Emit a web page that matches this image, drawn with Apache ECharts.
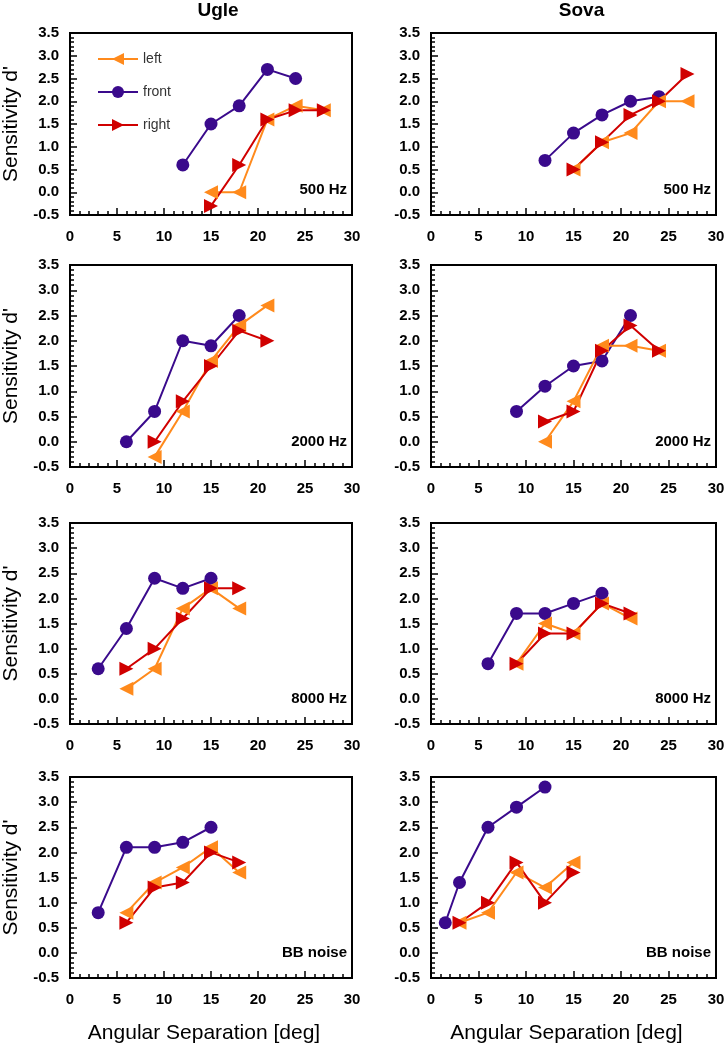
<!DOCTYPE html>
<html><head><meta charset="utf-8">
<script src="https://cdn.jsdelivr.net/npm/echarts@6/dist/echarts.min.js"></script>
<style>html,body{margin:0;padding:0;background:#fff}#c{width:728px;height:1048px}</style>
</head><body><div id="c"></div>
<script>
const subjects = ['Ugle', 'Sova'];
const conditions = ['500 Hz', '2000 Hz', '8000 Hz', 'BB noise'];
const seriesNames = ['left', 'front', 'right'];
const yAxisName = "Sensitivity d'";
const xAxisName = 'Angular Separation [deg]';

// Ugle
const ugle500Front  = [[12,0.6],[15,1.5],[18,1.9],[21,2.7],[24,2.5]];
const ugle500Left   = [[15,0.0],[18,0.0],[21,1.6],[24,1.9],[27,1.8]];
const ugle500Right  = [[15,-0.3],[18,0.6],[21,1.6],[24,1.8],[27,1.8]];
const ugle2000Front = [[6,0.0],[9,0.6],[12,2.0],[15,1.9],[18,2.5]];
const ugle2000Left  = [[9,-0.3],[12,0.6],[15,1.6],[18,2.3],[21,2.7]];
const ugle2000Right = [[9,0.0],[12,0.8],[15,1.5],[18,2.2],[21,2.0]];
const ugle8000Front = [[3,0.6],[6,1.4],[9,2.4],[12,2.2],[15,2.4]];
const ugle8000Left  = [[6,0.2],[9,0.6],[12,1.8],[15,2.2],[18,1.8]];
const ugle8000Right = [[6,0.6],[9,1.0],[12,1.6],[15,2.2],[18,2.2]];
const ugleBBFront   = [[3,0.8],[6,2.1],[9,2.1],[12,2.2],[15,2.5]];
const ugleBBLeft    = [[6,0.8],[9,1.4],[12,1.7],[15,2.1],[18,1.6]];
const ugleBBRight   = [[6,0.6],[9,1.3],[12,1.4],[15,2.0],[18,1.8]];
// Sova
const sova500Front  = [[12,0.7],[15,1.3],[18,1.7],[21,2.0],[24,2.1]];
const sova500Left   = [[15,0.5],[18,1.1],[21,1.3],[24,2.0],[27,2.0]];
const sova500Right  = [[15,0.5],[18,1.1],[21,1.7],[24,2.0],[27,2.6]];
const sova2000Front = [[9,0.6],[12,1.1],[15,1.5],[18,1.6],[21,2.5]];
const sova2000Left  = [[12,0.0],[15,0.8],[18,1.9],[21,1.9],[24,1.8]];
const sova2000Right = [[12,0.4],[15,0.6],[18,1.8],[21,2.3],[24,1.8]];
const sova8000Front = [[6,0.7],[9,1.7],[12,1.7],[15,1.9],[18,2.1]];
const sova8000Left  = [[9,0.7],[12,1.5],[15,1.3],[18,1.9],[21,1.6]];
const sova8000Right = [[9,0.7],[12,1.3],[15,1.3],[18,1.9],[21,1.7]];
const sovaBBFront   = [[1.5,0.6],[3,1.4],[6,2.5],[9,2.9],[12,3.3]];
const sovaBBLeft    = [[3,0.6],[6,0.8],[9,1.6],[12,1.3],[15,1.8]];
const sovaBBRight   = [[3,0.6],[6,1.0],[9,1.8],[12,1.0],[15,1.6]];

const panels = [
  [ // Ugle column
    {front: ugle500Front, left: ugle500Left, right: ugle500Right},
    {front: ugle2000Front, left: ugle2000Left, right: ugle2000Right},
    {front: ugle8000Front, left: ugle8000Left, right: ugle8000Right},
    {front: ugleBBFront, left: ugleBBLeft, right: ugleBBRight}
  ],
  [ // Sova column
    {front: sova500Front, left: sova500Left, right: sova500Right},
    {front: sova2000Front, left: sova2000Left, right: sova2000Right},
    {front: sova8000Front, left: sova8000Left, right: sova8000Right},
    {front: sovaBBFront, left: sovaBBLeft, right: sovaBBRight}
  ]
];

const FONT = 'Arial, "Liberation Sans", Helvetica, sans-serif';
const colLeft = [68, 431], colWidth = [284, 285];
const rowTop = [33, 265, 523, 777], rowHeight = [182, 202, 201, 201];
const colors = {left: '#FF8A1C', front: '#3A0A8C', right: '#D00000'};
const symbols = {
  left: {symbol: 'triangle', symbolRotate: 90, symbolSize: 14},
  front: {symbol: 'circle', symbolRotate: 0, symbolSize: 13},
  right: {symbol: 'triangle', symbolRotate: -90, symbolSize: 14}
};

const grid = [], xAxis = [], yAxis = [], series = [], graphic = [];
let idx = 0;
for (let c = 0; c < 2; c++) {
  graphic.push({type: 'text', x: colLeft[c] + colWidth[c] / 2 + 8, y: 11,
    style: {text: subjects[c], align: 'center', verticalAlign: 'middle',
      fontSize: 19, fontWeight: 'bold', fontFamily: FONT, fill: '#000'}});
  for (let r = 0; r < 4; r++) {
    grid.push({left: colLeft[c], top: rowTop[r], width: colWidth[c], height: rowHeight[r],
      show: true, borderColor: '#000', borderWidth: 2, backgroundColor: 'transparent'});
    const bottomRow = r === 3;
    xAxis.push({type: 'value', gridIndex: idx, min: 0, max: 30, interval: 5,
      name: bottomRow ? xAxisName : '', nameLocation: 'middle', nameGap: 45,
      nameTextStyle: {fontSize: 21, fontFamily: FONT, color: '#000', padding: [0, 14, 0, 0]},
      axisLine: {show: true, onZero: false, lineStyle: {color: '#000', width: 2}},
      axisTick: {show: true, inside: true, length: 7, lineStyle: {color: '#000', width: 1.5}},
      minorTick: {show: true, splitNumber: 5, length: 4, lineStyle: {color: '#000', width: 1.5}},
      splitLine: {show: false}, minorSplitLine: {show: false},
      axisLabel: {margin: 14, fontSize: 15, fontWeight: 'bold', fontFamily: FONT, color: '#000'}});
    yAxis.push({type: 'value', gridIndex: idx, min: -0.5, max: 3.5, interval: 0.5,
      name: c === 0 ? yAxisName : '', nameLocation: 'middle', nameGap: 48, nameRotate: 90,
      nameTextStyle: {fontSize: 21, fontFamily: FONT, color: '#000'},
      axisLine: {show: true, onZero: false, lineStyle: {color: '#000', width: 2}},
      axisTick: {show: true, inside: true, length: 7, lineStyle: {color: '#000', width: 1.5}},
      minorTick: {show: true, splitNumber: 5, length: 4, lineStyle: {color: '#000', width: 1.5}},
      splitLine: {show: false}, minorSplitLine: {show: false},
      axisLabel: {margin: 11, fontSize: 15, fontWeight: 'bold', fontFamily: FONT, color: '#000',
        formatter: v => v.toFixed(1)}});
    const p = panels[c][r];
    ['front', 'left', 'right'].forEach(name => {
      series.push(Object.assign({type: 'line', name: name, xAxisIndex: idx, yAxisIndex: idx,
        data: p[name], color: colors[name],
        lineStyle: {color: colors[name], width: 2},
        itemStyle: {color: colors[name]}, showAllSymbol: true, animation: false}, symbols[name]));
    });
    graphic.push({type: 'text', x: colLeft[c] + colWidth[c] - 5, y: rowTop[r] + rowHeight[r] - 25,
      style: {text: conditions[r], align: 'right', verticalAlign: 'middle',
        fontSize: 15, fontWeight: 'bold', fontFamily: FONT, fill: '#000'}});
    idx++;
  }
}

const chart = echarts.init(document.getElementById('c'), null, {renderer: 'canvas'});
chart.setOption({
  animation: false,
  backgroundColor: '#fff',
  grid, xAxis, yAxis, series, graphic,
  legend: {data: seriesNames, orient: 'vertical', left: 97, top: 52,
    itemWidth: 40, itemHeight: 15, itemGap: 19, padding: 0,
    textStyle: {fontSize: 14, fontFamily: FONT, color: '#333'}}
});
</script></body></html>
